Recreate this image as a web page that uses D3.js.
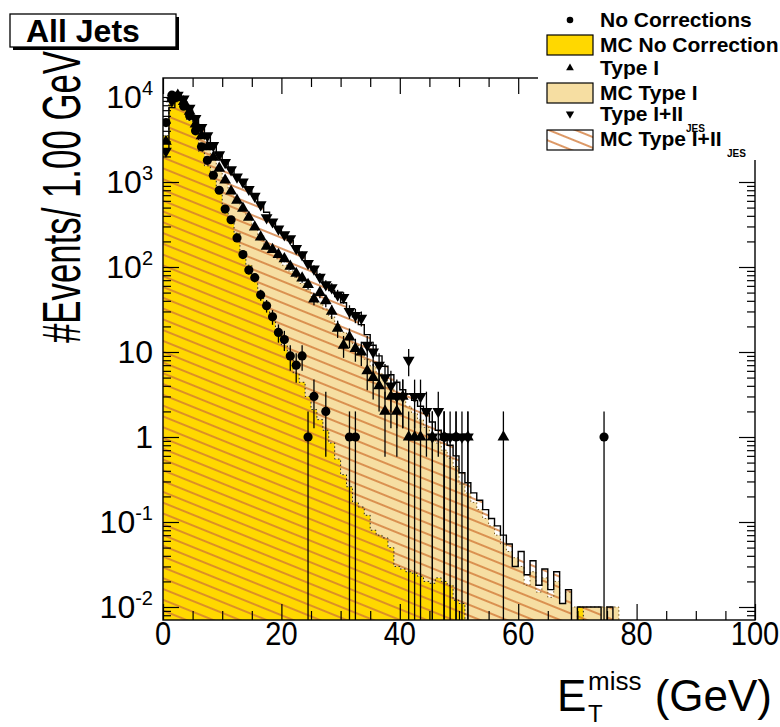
<!DOCTYPE html>
<html>
<head>
<meta charset="utf-8">
<script src="https://cdn.jsdelivr.net/npm/d3@7"></script>
<style>
  html, body { margin: 0; padding: 0; background: #fff; }
  svg { display: block; font-family: "Liberation Sans", Arial, sans-serif; }
</style>
</head>
<body>
<script>
// bins are 1 GeV wide, starting at 0
var binWidth = 1;

// MC histograms (events / bin)
var mcNoCorr = [3500, 8500, 9500, 7500, 5300, 3700, 2300, 1550, 1080, 780,
  520, 380, 250, 155, 105, 72, 48, 33, 25, 16,
  12, 8.5, 5.6, 4.4, 3.0, 2.1, 1.6, 1.2, 0.85, 0.55,
  0.36, 0.26, 0.17, 0.15, 0.12, 0.08, 0.07, 0.065, 0.05, 0.03,
  0.028, 0.026, 0.025, 0.023, 0.02, 0.019, 0.022, 0.02, 0.018, 0.012,
  0.011, 0, 0, 0, 0, 0, 0, 0, 0, 0,
  0, 0, 0, 0, 0, 0, 0, 0, 0, 0,
  0.01, 0, 0, 0, 0, 0, 0, 0, 0, 0];

var mcTypeI = [2800, 8000, 9200, 8000, 6000, 4300, 3200, 2400, 1800, 1350,
  1000, 760, 600, 480, 380, 300, 235, 185, 150, 125,
  105, 90, 76, 64, 54, 45, 38, 32, 26, 21,
  17, 14, 12, 10, 8.2, 6.8, 5.6, 4.6, 3.8, 3.2,
  2.7, 2.3, 1.9, 1.6, 1.3, 1.05, 0.85, 0.7, 0.56, 0.45,
  0.28, 0.22, 0.17, 0.14, 0.11, 0.09, 0.07, 0.055, 0.045, 0.038,
  0.03, 0.018, 0.026, 0.015, 0.022, 0.013, 0.02, 0.011, 0.015, 0.01,
  0.01, 0.01, 0.01, 0.01, 0.01, 0.01, 0.01, 0, 0, 0];

var mcTypeII = [2400, 7500, 9300, 8800, 7000, 5400, 4300, 3450, 2750, 2200,
  1780, 1450, 1200, 1000, 830, 690, 560, 440, 360, 290,
  240, 205, 168, 138, 112, 92, 76, 63, 53, 45,
  38, 32, 26, 21, 16, 12, 9, 6.8, 5.4, 4.4,
  3.6, 3.2, 2.7, 2.3, 1.9, 1.5, 1.2, 1.0, 0.8, 0.6,
  0.38, 0.29, 0.22, 0.18, 0.14, 0.11, 0.09, 0.07, 0.055, 0.03,
  0.045, 0.024, 0.035, 0.018, 0.028, 0.016, 0.026, 0.011, 0.016, 0,
  0.01, 0.01, 0.01, 0.01, 0, 0.01, 0, 0, 0, 0];

// data (event counts / bin)
var dataNoCorr = [5000, 10500, 10000, 7800, 6000, 4000, 2600, 1800, 1200, 800,
  480, 360, 220, 140, 92, 75, 47, 35, 26, 17,
  14, 9, 7, 9, 1, 3, 0, 2, 0, 0,
  0, 1, 1, 0, 0, 0, 0, 0, 0, 0,
  0, 0, 0, 0, 0, 0, 0, 1, 0, 1,
  0, 0, 0, 0, 0, 0, 0, 0, 0, 0,
  0, 0, 0, 0, 0, 0, 0, 0, 0, 0,
  0, 0, 0, 0, 1, 0, 0, 0, 0, 0];

var dataTypeI = [3000, 9500, 10500, 8800, 6800, 4800, 3500, 2600, 1950, 1450,
  1050, 780, 610, 490, 385, 295, 225, 175, 160, 140,
  125, 102, 84, 74, 62, 42, 50, 40, 30, 19,
  12, 15, 11, 10, 6, 5, 4, 2, 3, 2,
  3, 1, 1, 1, 0, 1, 0, 1, 0, 1,
  0, 1, 0, 0, 0, 0, 0, 1, 0, 0,
  0, 0, 0, 0, 0, 0, 0, 0, 0, 0,
  0, 0, 0, 0, 0, 0, 0, 0, 0, 0];

var dataTypeII = [2300, 9000, 10500, 9500, 7400, 5600, 4400, 3500, 2700, 2100,
  1700, 1400, 1150, 1000, 820, 680, 540, 380, 340, 280,
  240, 215, 165, 140, 110, 95, 76, 62, 57, 47,
  44, 30, 27, 25, 12, 10, 7, 5, 4, 3,
  3, 8, 3, 3, 2, 1, 2, 1, 1, 0,
  1, 1, 0, 0, 0, 0, 0, 0, 0, 0,
  0, 0, 0, 0, 0, 0, 0, 0, 0, 0,
  0, 0, 0, 0, 0, 0, 0, 0, 0, 0];

// axis ticks / labels
var xMajor = [0, 20, 40, 60, 80, 100];
var xMinor = [5, 10, 15, 25, 30, 35, 45, 50, 55, 65, 70, 75, 85, 90, 95];
var xTickLabels = ["0", "20", "40", "60", "80", "100"];
var yMajor = [1e4, 1e3, 1e2, 10, 1, 0.1, 0.01];
var yTickBase = ["10", "10", "10", "10", "1", "10", "10"];
var yTickSup = ["4", "3", "2", "", "", "-1", "-2"];

var legendLabels = ["No Corrections", "MC No Correction", "Type I", "MC Type I", "Type I+II", "MC Type I+II"];

var width = 780, height = 727;
var padL = 163, padR = 755, padT = 78, padB = 620;

var x = d3.scaleLinear().domain([0, 100]).range([padL, padR]);
// 10^4 sits at y=97, 10^-2 at y=607
var y = d3.scaleLog()
  .domain([Math.pow(10, -2 - 13 / 85), Math.pow(10, 4 + 19 / 85)])
  .range([padB, padT]);

function yv(v) {
  if (!(v > 0)) return padB + 3;
  return Math.min(y(v), padB + 3);
}

var yellow = "#ffd800";
var beige = "#f6dea2";
var hatchCol = "#d07634";

var svg = d3.select("body").append("svg")
  .attr("width", width)
  .attr("height", height);

var defs = svg.append("defs");
defs.append("clipPath").attr("id", "frame")
  .append("rect")
  .attr("x", padL).attr("y", padT)
  .attr("width", padR - padL).attr("height", padB - padT);

var pat = defs.append("pattern")
  .attr("id", "hatch")
  .attr("patternUnits", "userSpaceOnUse")
  .attr("width", 10).attr("height", 10)
  .attr("patternTransform", "rotate(22)");
pat.append("line")
  .attr("x1", 0).attr("y1", 5).attr("x2", 10).attr("y2", 5)
  .attr("stroke", hatchCol).attr("stroke-width", 1.5);

function histPoints(vals) {
  var pts = vals.map(function(v, i) { return [i * binWidth, v]; });
  pts.push([vals.length * binWidth, vals[vals.length - 1]]);
  return pts;
}

var area = d3.area()
  .x(function(d) { return x(d[0]); })
  .y0(padB + 3)
  .y1(function(d) { return yv(d[1]); })
  .curve(d3.curveStepAfter);

var line = d3.line()
  .x(function(d) { return x(d[0]); })
  .y(function(d) { return yv(d[1]); })
  .curve(d3.curveStepAfter);

var plot = svg.append("g").attr("clip-path", "url(#frame)");

// fills
plot.append("path").attr("d", area(histPoints(mcTypeI))).attr("fill", beige);
plot.append("path").attr("d", area(histPoints(mcNoCorr))).attr("fill", yellow);
plot.append("path").attr("d", area(histPoints(mcTypeII))).attr("fill", "url(#hatch)");

// outlines
plot.append("path").attr("d", line(histPoints(mcNoCorr)))
  .attr("fill", "none").attr("stroke", "#222").attr("stroke-width", 1)
  .attr("stroke-dasharray", "1.5,2.5");
plot.append("path").attr("d", line(histPoints(mcTypeI)))
  .attr("fill", "none").attr("stroke", "#7a5a20").attr("stroke-width", 1)
  .attr("stroke-dasharray", "1.5,2.5");
plot.append("path").attr("d", line(histPoints(mcTypeII)))
  .attr("fill", "none").attr("stroke", "#000").attr("stroke-width", 1.4);

// data points with sqrt(N) errors
function drawData(vals, symbol, rot, size) {
  var pts = [];
  vals.forEach(function(v, i) { if (v > 0) pts.push({ x: (i + 0.5) * binWidth, v: v }); });
  var g = plot.append("g");
  g.selectAll("line")
    .data(pts)
    .enter()
    .append("line")
    .attr("x1", function(d) { return x(d.x); })
    .attr("x2", function(d) { return x(d.x); })
    .attr("y1", function(d) { return yv(d.v + Math.sqrt(d.v)); })
    .attr("y2", function(d) {
      var lo = d.v - Math.sqrt(d.v);
      return lo > 0 ? yv(lo) : padB + 3;
    })
    .attr("stroke", "#000").attr("stroke-width", 1.3);
  g.selectAll("path")
    .data(pts)
    .enter()
    .append("path")
    .attr("d", d3.symbol().type(symbol).size(size))
    .attr("transform", function(d) {
      return "translate(" + x(d.x) + "," + y(d.v) + ") rotate(" + rot + ")";
    })
    .attr("fill", "#000");
}

drawData(dataNoCorr, d3.symbolCircle, 0, 66);
drawData(dataTypeI, d3.symbolTriangle, 0, 60);
drawData(dataTypeII, d3.symbolTriangle, 180, 60);

// axes: ROOT style ticks pointing inward, on all four sides
function styleAxis(g) {
  g.select(".domain").remove();
  g.selectAll("line").attr("stroke", "#000").attr("stroke-width", 1.2);
}
svg.append("g").attr("transform", "translate(0," + padB + ")")
  .call(d3.axisBottom(x).tickValues(xMajor).tickSizeInner(-16).tickSizeOuter(0).tickFormat(""))
  .call(styleAxis);
svg.append("g").attr("transform", "translate(0," + padB + ")")
  .call(d3.axisBottom(x).tickValues(xMinor).tickSizeInner(-9).tickSizeOuter(0).tickFormat(""))
  .call(styleAxis);
svg.append("g").attr("transform", "translate(0," + padT + ")")
  .call(d3.axisTop(x).tickValues(xMajor).tickSizeInner(-16).tickSizeOuter(0).tickFormat(""))
  .call(styleAxis);
svg.append("g").attr("transform", "translate(0," + padT + ")")
  .call(d3.axisTop(x).tickValues(xMinor).tickSizeInner(-9).tickSizeOuter(0).tickFormat(""))
  .call(styleAxis);

var yMinor = [];
[-3, -2, -1, 0, 1, 2, 3, 4].forEach(function(e) {
  [2, 3, 4, 5, 6, 7, 8, 9].forEach(function(k) {
    var v = k * Math.pow(10, e);
    if (v > y.domain()[0] && v < y.domain()[1]) yMinor.push(v);
  });
});

[[d3.axisLeft, padL], [d3.axisRight, padR]].forEach(function(a) {
  svg.append("g").attr("transform", "translate(" + a[1] + ",0)")
    .call(a[0](y).tickValues(yMajor).tickSizeInner(-16).tickSizeOuter(0).tickFormat(""))
    .call(styleAxis);
  svg.append("g").attr("transform", "translate(" + a[1] + ",0)")
    .call(a[0](y).tickValues(yMinor).tickSizeInner(-8).tickSizeOuter(0).tickFormat(""))
    .call(styleAxis);
});

// frame
svg.append("rect")
  .attr("x", padL).attr("y", padT)
  .attr("width", padR - padL).attr("height", padB - padT)
  .attr("fill", "none").attr("stroke", "#000").attr("stroke-width", 1.4);

// tick labels
svg.append("g").selectAll("text")
  .data(xMajor)
  .enter()
  .append("text")
  .attr("transform", function(d) { return "translate(" + x(d) + ",645) scale(0.88,1)"; })
  .attr("text-anchor", "middle")
  .attr("font-size", 33)
  .text(function(d, i) { return xTickLabels[i]; });

var yl = svg.append("g").selectAll("text")
  .data(yMajor)
  .enter()
  .append("text")
  .attr("x", 153)
  .attr("y", function(d) { return y(d) + 11; })
  .attr("text-anchor", "end")
  .attr("font-size", 32);
yl.append("tspan").text(function(d, i) { return yTickBase[i]; });
yl.append("tspan")
  .attr("dy", -13)
  .attr("font-size", 20)
  .text(function(d, i) { return yTickSup[i]; });

// axis titles
svg.append("text")
  .attr("transform", "translate(80,197) rotate(-90)")
  .attr("text-anchor", "middle")
  .attr("font-size", 54)
  .attr("textLength", 292)
  .attr("lengthAdjust", "spacingAndGlyphs")
  .text("#Events/ 1.00 GeV");

svg.append("text").attr("x", 557).attr("y", 711).attr("font-size", 44).text("E");
svg.append("text").attr("x", 588).attr("y", 690).attr("font-size", 26).text("miss");
svg.append("text").attr("x", 588).attr("y", 722).attr("font-size", 24).text("T");
svg.append("text").attr("x", 772).attr("y", 711).attr("text-anchor", "end")
  .attr("font-size", 44).text("(GeV)");

// "All Jets" label with shadow
svg.append("rect").attr("x", 13).attr("y", 17).attr("width", 166).attr("height", 33).attr("fill", "#000");
svg.append("rect").attr("x", 10).attr("y", 14).attr("width", 166).attr("height", 33)
  .attr("fill", "#fff").attr("stroke", "#000").attr("stroke-width", 1.3);
svg.append("text").attr("x", 26).attr("y", 42)
  .attr("font-size", 32).attr("font-weight", "bold").text("All Jets");

// legend (white background, no border)
var lg = svg.append("g");
lg.append("rect").attr("x", 538).attr("y", 0).attr("width", 242).attr("height", 160).attr("fill", "#fff");
var rowY = [20, 45, 68, 93, 114, 140];
var textY = [27, 52, 75, 100, 121, 146];
lg.selectAll("text.leg")
  .data(legendLabels)
  .enter()
  .append("text")
  .attr("class", "leg")
  .attr("x", 600)
  .attr("y", function(d, i) { return textY[i]; })
  .attr("font-size", 21)
  .attr("font-weight", "bold")
  .text(function(d) { return d; });
lg.append("text").attr("x", 686).attr("y", 132).attr("font-size", 10).attr("font-weight", "bold").text("JES");
lg.append("text").attr("x", 727).attr("y", 157).attr("font-size", 10).attr("font-weight", "bold").text("JES");

lg.append("path").attr("d", d3.symbol().type(d3.symbolCircle).size(34))
  .attr("transform", "translate(570," + rowY[0] + ")");
lg.append("path").attr("d", d3.symbol().type(d3.symbolTriangle).size(26))
  .attr("transform", "translate(570," + rowY[2] + ")");
lg.append("path").attr("d", d3.symbol().type(d3.symbolTriangle).size(30))
  .attr("transform", "translate(570," + rowY[4] + ") rotate(180)");

[[1, yellow], [3, beige], [5, "url(#hatch)"]].forEach(function(b) {
  lg.append("rect")
    .attr("x", 547).attr("y", rowY[b[0]] - 10)
    .attr("width", 46).attr("height", 20)
    .attr("fill", b[1]).attr("stroke", "#000").attr("stroke-width", 1.2);
});
</script>
</body>
</html>
